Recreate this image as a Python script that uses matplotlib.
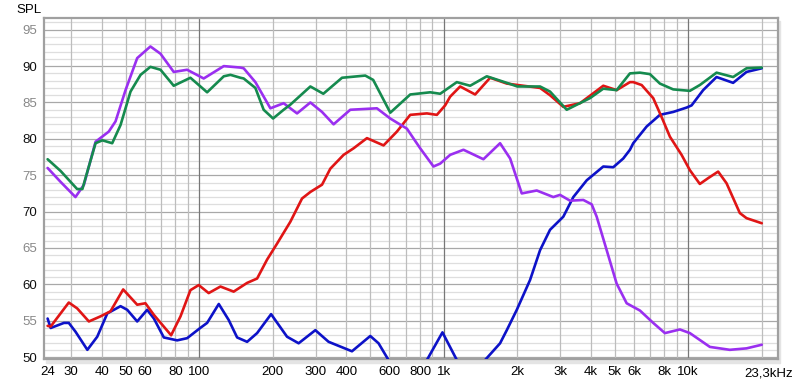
import matplotlib
matplotlib.use("Agg")
import matplotlib.pyplot as plt
from matplotlib.patches import Rectangle

plt.rcParams['font.family'] = ['Liberation Sans', 'DejaVu Sans']

# frequency response curves (Hz, dB SPL)
green_f = [24, 27.1, 31.7, 33.3, 34.9, 37.7, 40.2, 44.1, 47.7, 52.4, 57.6, 63.2, 69.5, 78.7,
           92.1, 107.8, 126.1, 134.3, 147.5, 152.1, 169.8, 183.6, 200.6, 221.6, 236, 285, 322,
           384, 478, 515, 605, 730, 881, 968, 1132, 1283, 1501, 1812, 2000, 2479, 2723, 3186,
           3967, 4496, 5099, 5779, 6350, 6975, 7662, 8684, 10160, 11160, 13062, 15270, 17322,
           20000]
green_db = [77.2, 75.6, 73.1, 73.1, 75.5, 79.4, 79.8, 79.4, 81.9, 86.5, 88.8, 89.9, 89.5, 87.3,
            88.4, 86.4, 88.6, 88.8, 88.4, 88.3, 87.0, 84.0, 82.8, 84.0, 84.7, 87.2, 86.2,
            88.4, 88.7, 88.1, 83.6, 86.1, 86.4, 86.2, 87.8, 87.3, 88.6, 87.7, 87.2, 87.2, 86.5, 84.0,
            85.6, 86.9, 86.7, 89.0, 89.1, 88.9, 87.6, 86.8, 86.6, 87.4, 89.1, 88.5, 89.7,
            89.8]

purple_f = [24, 27.1, 31.2, 33.8, 37.7, 42.7, 45.5, 50.0, 55.8, 63.2, 69.5, 78.7, 89.3, 104.4,
            126.1, 147.5, 152.1, 169.8, 195.6, 221.6, 251.4, 285, 318.1, 354.7, 415, 533.4,
            604.5, 707.4, 801.7, 908.6, 968, 1063, 1205, 1454, 1701, 1870, 2086, 2403, 2808,
            2991, 3287, 3725, 4031, 4225, 4642, 5099, 5603, 6350, 7194, 8032, 9250, 10160,
            12267, 14800, 17322, 20000]
purple_db = [76.0, 74.1, 72.0, 73.7, 79.6, 81.0, 82.4, 86.7, 91.1, 92.7, 91.7, 89.2, 89.5, 88.3,
             90.0, 89.8, 89.7, 87.8, 84.2, 84.9, 83.5, 85.0, 83.7, 82.0, 84.0, 84.2,
             82.8, 81.4, 78.7, 76.2, 76.6, 77.8, 78.5, 77.2, 79.4, 77.3, 72.5, 72.9, 72.0,
             72.3, 71.5, 71.6, 71.0, 69.3, 64.7, 60.1, 57.4, 56.4, 54.7, 53.3, 53.8, 53.3,
             51.4, 51.0, 51.2, 51.7]

red_f = [24, 24.7, 29.3, 31.7, 35.4, 39.5, 43.4, 48.9, 55.8, 60.3, 65.3, 76.8, 83.9, 92.1, 99.6,
         109.4, 122.2, 138.4, 157.1, 172.6, 189.6, 208.3, 236, 263.5, 285, 318.1, 343.9, 389.7,
         428.1, 485.6, 567.7, 644, 729.8, 854, 938, 1014, 1063, 1168, 1345, 1549, 1812, 2118,
         2479, 2723, 3085, 3611, 4496, 5099, 5779, 5961, 6452, 7194, 7786, 8419, 9398, 10160,
         11160, 12070, 13260, 14350, 16265, 17322, 20000]
red_db = [54.3, 54.2, 57.5, 56.7, 54.9, 55.6, 56.3, 59.3, 57.2, 57.4, 55.8, 53.0, 55.6, 59.2, 59.9,
          58.8, 59.7, 59.0, 60.2, 60.8, 63.4, 65.6, 68.6, 71.8, 72.7, 73.7, 75.9, 77.8,
          78.7, 80.1, 79.1, 81.0, 83.3, 83.5, 83.3, 84.6, 85.8, 87.2, 86.1, 88.4, 87.6, 87.3,
          87.0, 86.0, 84.4, 84.9, 87.3, 86.7, 87.8, 87.8, 87.4, 85.6, 83.0, 80.3, 77.8, 75.7,
          73.8, 74.6, 75.5, 73.9, 69.8, 69.1, 68.4]

blue_f = [24, 24.7, 28.0, 29.3, 31.2, 34.9, 38.3, 42.1, 47.7, 50.8, 55.8, 61.3, 65.3, 71.7, 81.3,
          89.3, 101, 107.8, 120.3, 132.1, 143, 157.1, 172.6, 196.9, 228.8, 255.2, 298.7, 338.4,
          421.7, 501, 541.6, 594.9, 680, 780, 854, 988.8, 1132, 1300, 1477, 1701, 1812, 1991,
          2256, 2479, 2723, 3085, 3391, 3846, 4496, 4939, 5426, 5779, 5961, 6764, 7662, 8684,
          9851, 10325, 11515, 13062, 15270, 17322, 20000]
blue_db = [55.3, 54.0, 54.7, 54.7, 53.5, 51.0, 52.8, 56.0, 57.0, 56.5, 54.9, 56.5, 55.3, 52.7, 52.3,
           52.6, 54.0, 54.7, 57.3, 55.1, 52.7, 52.1, 53.3, 55.9, 52.8, 51.9, 53.7, 52.1,
           50.8, 52.9, 51.9, 49.6, 47.0, 47.2, 49.6, 53.4, 49.6, 47.3, 49.6, 51.9, 53.7, 56.5,
           60.6, 64.7, 67.5, 69.3, 72.0, 74.3, 76.2, 76.1, 77.3, 78.5, 79.4, 81.7, 83.3, 83.7,
           84.3, 84.6, 86.7, 88.5, 87.7, 89.2, 89.7]

xticks = [24, 30, 40, 50, 60, 80, 100, 200, 300, 400, 600, 800, 1000, 2000, 3000, 4000, 5000,
          6000, 8000, 10000]
xlabels = ['24', '30', '40', '50', '60', '80', '100', '200', '300', '400', '600', '800', '1k',
           '2k', '3k', '4k', '5k', '6k', '8k', '10k']
yticks = [50, 55, 60, 65, 70, 75, 80, 85, 90, 95]

fig = plt.figure(figsize=(8, 3.84), dpi=100)
ax = fig.add_axes([0.055, 0.064, 0.9175, 0.89])
ax.set_xscale('log')
ax.set_xlim(23.2, 23300)
ax.set_ylim(49.68, 96.66)

# grid: light lines every dB, darker every 5 dB
for v in range(50, 97):
    ax.axhline(v, color='#a8a8a8' if v % 5 == 0 else '#dedede', lw=0.9, zorder=0)
for dec in [10, 100, 1000, 10000]:
    for m in range(1, 10):
        f = dec * m
        if 23.2 < f < 23300:
            major = m == 1 and dec in (100, 1000, 10000)
            ax.axvline(f, color='#777777' if major else '#bdbdbd', lw=0.9, zorder=0)

kw = dict(lw=1.9, solid_joinstyle='round', solid_capstyle='round', zorder=3)
ax.plot(blue_f, blue_db, color='#0d12c8', **kw)
ax.plot(red_f, red_db, color='#e01515', **kw)
ax.plot(purple_f, purple_db, color='#9a2ff0', **kw)
ax.plot(green_f, green_db, color='#158a4e', **kw)

ax.set_xticks(xticks)
ax.set_xticklabels(xlabels)
ax.set_xticks([], minor=True)
ax.set_yticks(yticks)
ax.set_yticklabels([str(v) for v in yticks])
ax.tick_params(length=0, labelsize=9.5, pad=5)
for lab, v in zip(ax.get_yticklabels(), yticks):
    lab.set_color('#111111' if v % 10 == 0 else '#888888')

for s in ax.spines.values():
    s.set_color('#a0a0a0')
    s.set_linewidth(1.6)

# drop shadow right / below the frame
fig.patches.append(Rectangle((0.058, 0.055), 0.9175, 0.89, transform=fig.transFigure,
                             color='#e4e4e4', zorder=-5))

fig.text(0.991, 0.012, '23,3kHz', ha='right', va='bottom', fontsize=9.5)
fig.text(0.021, 0.975, 'SPL', ha='left', va='center', fontsize=9.5)

fig.savefig('out.png', dpi=100)
